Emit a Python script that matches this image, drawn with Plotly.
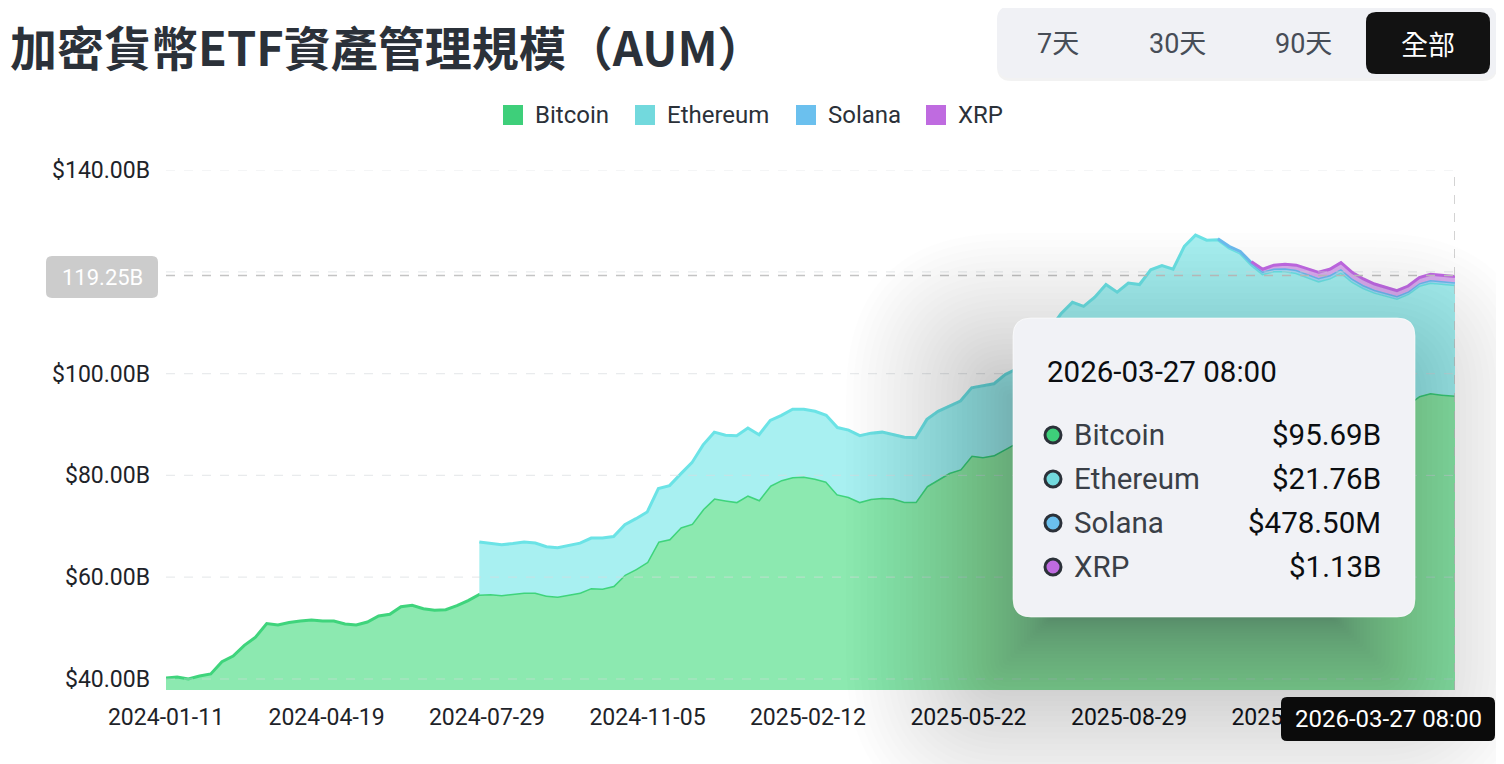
import numpy as np
import pandas as pd
import plotly.graph_objects as go

# weekly samples, last point is the hovered timestamp
dates = list(pd.date_range("2024-01-11", periods=115, freq="7D")) + [pd.Timestamp("2026-03-27 08:00")]

btc = [
    40.2, 40.4, 40.0, 40.6, 41.0, 43.4, 44.5, 46.6, 48.2, 50.9,
    50.6, 51.1, 51.4, 51.6, 51.4, 51.4, 50.8, 50.6, 51.2, 52.4,
    52.7, 54.2, 54.5, 53.8, 53.5, 53.6, 54.4, 55.4, 56.6, 56.7,
    56.5, 56.8, 57.0, 57.0, 56.4, 56.2, 56.6, 57.0, 57.9, 57.8,
    58.3, 60.5, 61.6, 63.0, 67.0, 67.5, 69.8, 70.5, 73.4, 75.5,
    75.1, 74.8, 76.1, 75.2, 78.0, 79.1, 79.7, 79.8, 79.4, 78.8,
    76.3, 75.8, 74.8, 75.4, 75.6, 75.5, 74.8, 74.8, 77.9, 79.2,
    80.5, 81.2, 83.9, 83.6, 84.0, 85.2, 86.4, 88.0, 89.5, 91.3,
    93.3, 94.5, 93.2, 94.2, 96.0, 94.2, 95.8, 95.2, 97.9, 98.4,
    97.5, 101.7, 103.7, 102.8, 103.0, 101.5, 100.65, 98.55, 97.0, 97.65,
    97.75, 97.5, 96.8, 96.08, 96.75, 97.9, 96.2, 94.95, 94.15, 93.5,
    93.07, 93.98, 95.6, 96.2, 95.9, 95.69,
]

ETH_START = 28
eth = [
    10.3, 10.0, 9.9, 9.8, 9.9, 9.7, 9.6, 9.6, 9.7, 9.7, 9.8, 9.9,
    9.7, 9.8, 9.9, 9.8, 10.4, 10.5, 10.5, 12.0, 12.6, 13.0,
    12.8, 13.0, 13.2, 12.8, 12.8, 12.7, 13.3, 13.2, 13.2, 13.0,
    13.1, 13.1, 13.0, 12.9, 12.9, 12.5, 12.7, 12.6, 13.1, 13.4,
    13.1, 13.4, 13.3, 14.0, 14.0, 14.6, 14.5, 15.5, 16.5, 17.5,
    18.5, 19.5, 20.0, 20.8, 21.5, 21.8, 22.0, 22.3, 22.5, 22.8,
    23.0, 23.3, 23.5, 23.4, 23.3, 23.2, 23.0, 22.8, 22.6, 22.5,
    22.4, 22.3, 22.2, 22.1, 22.0, 22.0, 21.9, 21.9, 21.8, 21.8,
    21.7, 21.7, 21.7, 21.7, 21.75, 21.76,
]

SOL_START = 94
sol = [0.2, 0.3, 0.35, 0.4, 0.45, 0.5, 0.55, 0.6, 0.6, 0.62, 0.6, 0.65,
       0.6, 0.55, 0.5, 0.5, 0.48, 0.47, 0.47, 0.48, 0.48, 0.4785]

XRP_START = 97
xrp = [0.25, 0.45, 0.65, 0.8, 0.9, 1.0, 1.1, 1.15, 1.25, 1.2, 1.2, 1.15,
       1.1, 1.05, 1.05, 1.1, 1.12, 1.13, 1.13]

y_ticks = [40, 60, 80, 100, 120, 140]
# the $120.00B label sits under the crosshair value box, so it is left blank
y_ticktext = ["$40.00B", "$60.00B", "$80.00B", "$100.00B", "", "$140.00B"]
x_ticks = ["2024-01-11", "2024-04-20 10:00", "2024-07-29 19:00", "2024-11-07 05:00",
           "2025-02-15 14:00", "2025-05-27", "2025-09-04 10:00", "2025-12-13 19:00"]
x_ticktext = ["2024-01-11", "2024-04-19", "2024-07-29", "2024-11-05",
              "2025-02-12", "2025-05-22", "2025-08-29", "2025-12-06"]

names = ["Bitcoin", "Ethereum", "Solana", "XRP"]
legend_colors = ["#3ecf7a", "#72d9dd", "#6bc0ee", "#bf6be0"]
line_colors = ["#3fd47c", "#6be3e6", "#6cbdf0", "#c46ae6"]
fill_colors = ["#8ce9b0", "#a8f0f1", "#a9daf7", "#dcb0f0"]
tooltip_time = "2026-03-27 08:00"
tooltip_values = ["$95.69B", "$21.76B", "$478.50M", "$1.13B"]
cross_y = 119.25

FONT = "Roboto, Noto Sans CJK TC, sans-serif"
CJK = "Noto Sans CJK TC, sans-serif"

# stacked tops
btc_a = np.array(btc)
eth_top = btc_a[ETH_START:] + np.array(eth)
sol_top = eth_top[SOL_START - ETH_START:] + np.array(sol)
xrp_top = sol_top[XRP_START - SOL_START:] + np.array(xrp)

fig = go.Figure()
fig.add_trace(go.Scatter(x=dates, y=btc, mode="lines", fill="tozeroy",
                         line=dict(color=line_colors[0], width=3), fillcolor=fill_colors[0]))

layers = [
    (ETH_START, btc_a[ETH_START:], eth_top, 1),
    (SOL_START, eth_top[SOL_START - ETH_START:], sol_top, 2),
    (XRP_START, sol_top[XRP_START - SOL_START:], xrp_top, 3),
]
for start, base, top, k in layers:
    fig.add_trace(go.Scatter(x=dates[start:], y=base, mode="lines",
                             line=dict(width=0, color="rgba(0,0,0,0)"), showlegend=False))
    fig.add_trace(go.Scatter(x=dates[start:], y=top, mode="lines", fill="tonexty",
                             line=dict(color=line_colors[k], width=3), fillcolor=fill_colors[k]))

# page pixel helpers (the page body adds an 8px margin; plot area 166..1455 x 170..690)
OFF = 8
L, T, PW, PH = 166, 170, 1289, 520
W, H = 1504 - OFF, 764 - OFF


def px(x):
    return (x - L) / PW


def py(y):
    return (T + PH - y) / PH


def rrect(x0, y0, x1, y1, r):
    p = lambda x, y: f"{px(x):.5f},{py(y):.5f}"
    return (f"M{p(x0 + r, y0)} L{p(x1 - r, y0)} Q{p(x1, y0)} {p(x1, y0 + r)} "
            f"L{p(x1, y1 - r)} Q{p(x1, y1)} {p(x1 - r, y1)} L{p(x0 + r, y1)} "
            f"Q{p(x0, y1)} {p(x0, y1 - r)} L{p(x0, y0 + r)} Q{p(x0, y0)} {p(x0 + r, y0)} Z")


shapes = []
annotations = []


def box(x0, y0, x1, y1, r, fill, line="rgba(0,0,0,0)", lw=0):
    shapes.append(dict(type="path", path=rrect(x0, y0, x1, y1, r), xref="paper", yref="paper",
                       fillcolor=fill, line=dict(color=line, width=lw), layer="above"))


def text(t, x, y, size, color, anchor="left", family=FONT):
    annotations.append(dict(text=t, x=px(x), y=py(y), xref="paper", yref="paper",
                            xanchor=anchor, yanchor="middle", showarrow=False,
                            font=dict(size=size, color=color, family=family)))


# grid lines drawn over the areas
for v in y_ticks:
    shapes.append(dict(type="line", xref="paper", yref="y", x0=0, x1=1, y0=v, y1=v,
                       line=dict(color="rgba(215,218,222,0.55)", width=1.2, dash="dash"),
                       layer="above"))

# crosshair
shapes.append(dict(type="line", xref="paper", yref="y", x0=0, x1=1, y0=cross_y, y1=cross_y,
                   line=dict(color="#c4c4c4", width=1.5, dash="dash"), layer="above"))
shapes.append(dict(type="line", xref="x", yref="paper", x0=dates[-1], x1=dates[-1], y0=0, y1=1,
                   line=dict(color="#c4c4c4", width=1.5, dash="dash"), layer="above"))
box(46, 256, 158, 298, 6, "#cccccc")
text(f"{cross_y:.2f}B", 102, 277, 22, "#ffffff", "center")

# tooltip: soft shadow from stacked translucent boxes, then the card
tx0, ty0, tx1, ty1 = 1013, 318, 1415, 617
N = 50
for k in range(N):
    e = -60 + 205 * (k / (N - 1)) ** 1.7
    r = max(18 + e, 4)
    box(tx0 - 22 - e, ty0 + 60 - e, tx1 - 22 + e, ty1 + 60 + e, r, "rgba(0,0,0,0.0085)")
box(tx0, ty0, tx1, ty1, 18, "#f1f2f6", "rgba(255,255,255,0.6)", 1)
text(tooltip_time, 1045, 372, 29.5, "#0b0e11")
for i, (n, v) in enumerate(zip(names, tooltip_values)):
    yc = 435 + 44 * i
    shapes.append(dict(type="circle", xref="paper", yref="paper",
                       x0=px(1053 - 8), x1=px(1053 + 8), y0=py(yc + 8), y1=py(yc - 8),
                       fillcolor=legend_colors[i], line=dict(color="#2b3139", width=3), layer="above"))
    text(n, 1072, yc, 29.5, "#3a3f47")
    text(v, 1383, yc, 29.5, "#0b0e11", "right")

# x crosshair label
box(1281, 697, 1495, 741, 6, "#0b0b0b")
text(tooltip_time, 1388, 719, 24, "#ffffff", "center")

# range buttons
box(997, 8, 1497, 81, 14, "rgba(0,0,0,0.05)")
box(997, 6, 1497, 78, 14, "#f0f1f5")
box(1366, 12, 1490, 74, 10, "#121212")
for label, xc in [("7天", 1058), ("30天", 1177), ("90天", 1303)]:
    text(label, xc, 44, 27, "#474d57", "center")
text("全部", 1428, 44, 27, "#ffffff", "center", CJK)

# legend
for n, c, xs in zip(names, legend_colors, [503, 635, 796, 926]):
    shapes.append(dict(type="rect", xref="paper", yref="paper", x0=px(xs), x1=px(xs + 20),
                       y0=py(125), y1=py(105), fillcolor=c, line=dict(width=0), layer="above"))
    text(n, xs + 30, 115, 24, "#2b3139")

# title
text("<b>加密貨幣ETF資產管理規模（AUM）</b>", 8, 46, 47, "#2b3139", "left", CJK)

fig.update_layout(
    width=W, height=H, autosize=False,
    margin=dict(l=L - OFF, r=1504 - L - PW, t=T - OFF, b=764 - T - PH),
    paper_bgcolor="white", plot_bgcolor="white",
    showlegend=False, hovermode=False,
    shapes=shapes, annotations=annotations,
    font=dict(family=FONT, color="#1e2329"),
)
fig.update_xaxes(type="date", range=[dates[0], dates[-1]], tickvals=x_ticks, ticktext=x_ticktext,
                 showgrid=False, zeroline=False, showline=False, ticks="",
                 tickfont=dict(size=23, color="#1e2329"), ticklabelstandoff=11)
fig.update_yaxes(range=[37.84, 140], tickvals=y_ticks, ticktext=y_ticktext,
                 showgrid=False, zeroline=False, showline=False, ticks="",
                 tickfont=dict(size=23, color="#1e2329"), ticklabelstandoff=15)

fig.write_html("out.html", config={"displayModeBar": False})
